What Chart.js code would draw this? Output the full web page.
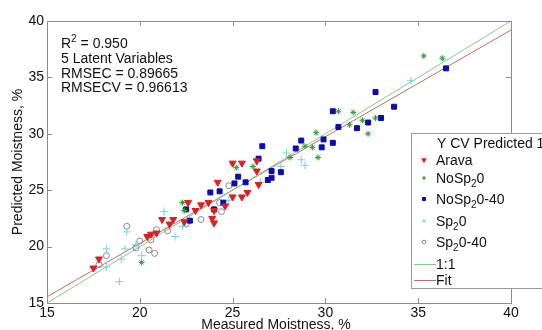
<!DOCTYPE html>
<html>
<head>
<meta charset="utf-8">
<script src="https://cdn.jsdelivr.net/npm/chart.js@4/dist/chart.umd.min.js"></script>
<style>
  body { margin: 0; background: #fff; }
  canvas { display: block; }
</style>
</head>
<body>
<canvas id="plsChart" width="542" height="330"></canvas>
<script>
// measured (x) vs predicted (y) moistness, per sample group
const aravaX = [17.5, 17.8, 20.4, 20.6, 20.9, 21.2, 21.6, 21.8, 22.4, 22.6, 23.0, 23.3, 23.7, 23.9, 24.0, 24.0, 24.2, 24.6, 25.0, 25.0, 25.5, 25.5, 25.8, 26.3, 26.3, 26.4];
const aravaY = [18.1, 18.9, 20.9, 21.1, 21.2, 22.4, 22.0, 22.4, 22.2, 23.9, 23.2, 23.7, 23.9, 22.5, 22.1, 23.2, 25.7, 23.6, 27.4, 24.4, 27.4, 24.4, 24.8, 27.6, 26.7, 25.5];

const noSp0X = [20.1, 22.3, 22.4, 25.2, 26.1, 28.1, 28.9, 29.3, 29.6, 29.5, 30.7, 31.3, 31.5, 32.0, 32.7, 32.3, 35.3, 36.3];
const noSp0Y = [18.6, 23.9, 23.2, 27.0, 27.1, 27.9, 28.9, 28.8, 27.9, 30.1, 32.0, 30.8, 31.9, 31.2, 31.4, 30.0, 36.9, 36.7];

const noSp40X = [22.7, 22.5, 23.8, 24.0, 24.3, 24.5, 25.1, 25.3, 25.7, 26.9, 27.1, 26.6, 26.4, 27.1, 27.6, 28.4, 28.7, 29.8, 29.9, 30.4, 30.4, 30.7, 31.7, 32.3, 33.0, 32.7, 33.7, 36.5];
const noSp40Y = [22.3, 23.3, 24.8, 23.3, 24.9, 23.9, 25.6, 26.2, 25.7, 25.9, 26.1, 28.9, 27.8, 26.7, 26.6, 28.7, 29.4, 28.8, 29.5, 29.2, 32.0, 30.6, 30.5, 31.0, 31.4, 33.7, 32.4, 35.8];

const sp0X = [18.2, 18.2, 18.9, 19.0, 19.2, 19.3, 19.8, 20.1, 21.3, 21.9, 22.3, 24.8, 26.5, 27.6, 27.9, 28.7, 28.9, 34.6];
const sp0Y = [18.2, 19.8, 16.9, 18.9, 19.8, 21.3, 20.2, 19.2, 23.1, 20.9, 21.8, 24.1, 25.7, 27.1, 28.3, 27.7, 27.2, 34.7];

const sp40X = [17.8, 18.2, 19.3, 19.8, 20.0, 20.5, 20.8, 20.6, 20.9, 21.5, 22.5, 23.3, 24.3, 24.4, 24.8];
const sp40Y = [18.4, 19.2, 21.8, 19.9, 20.5, 19.7, 19.4, 20.6, 21.5, 21.4, 22.0, 22.4, 23.9, 23.1, 25.4];

const oneX = [15, 40];
const oneY = [15, 40];
const fitX = [15, 40];
const fitY = [15.55, 39.2];

const tickVals = [15, 20, 25, 30, 35, 40];

const statsLines = [
  [['R', 'n'], ['2', 'sup'], [' = 0.950', 'n']],
  [['5 Latent Variables', 'n']],
  [['RMSEC = 0.89665', 'n']],
  [['RMSECV = 0.96613', 'n']]
];

const FONT = '"Liberation Sans", Arial, sans-serif';

function pts(xs, ys) {
  return xs.map((x, i) => ({ x: x, y: ys[i] }));
}

function drawRich(ctx, parts, x, y) {
  // y is the baseline
  let cx = x;
  parts.forEach(p => {
    let dy = 0;
    if (p[1] === 'sub') { ctx.font = '10px ' + FONT; dy = 4; }
    else if (p[1] === 'sup') { ctx.font = '10px ' + FONT; dy = -6; }
    else { ctx.font = '14px ' + FONT; }
    ctx.fillText(p[0], cx, y + dy);
    cx += ctx.measureText(p[0]).width;
  });
}

const groups = [
  { label: [['Arava', 'n']], xs: aravaX, ys: aravaY, style: 'triangle', rot: 180, r: 4, fill: '#dc1f24', stroke: '#dc1f24' },
  { label: [['NoSp', 'n'], ['2', 'sub'], ['0', 'n']], xs: noSp0X, ys: noSp0Y, style: 'star', rot: 0, r: 3, fill: '#2f9a3a', stroke: '#2f9a3a' },
  { label: [['NoSp', 'n'], ['2', 'sub'], ['0-40', 'n']], xs: noSp40X, ys: noSp40Y, style: 'rect', rot: 0, r: 3.5, fill: '#0b0bb0', stroke: '#0b0bb0' },
  { label: [['Sp', 'n'], ['2', 'sub'], ['0', 'n']], xs: sp0X, ys: sp0Y, style: 'cross', rot: 0, r: 4, fill: '#78d4e2', stroke: '#78d4e2' },
  { label: [['Sp', 'n'], ['2', 'sub'], ['0-40', 'n']], xs: sp40X, ys: sp40Y, style: 'circle', rot: 0, r: 3, fill: 'rgba(255,255,255,0)', stroke: '#8a8a8a' }
];

const lineGroups = [
  { label: [['1:1', 'n']], xs: oneX, ys: oneY, color: '#86c986' },
  { label: [['Fit', 'n']], xs: fitX, ys: fitY, color: '#c46a6a' }
];

const datasets = [];
groups.forEach(g => {
  datasets.push({
    type: 'scatter',
    data: pts(g.xs, g.ys),
    pointStyle: g.style,
    rotation: g.rot,
    pointRadius: g.r,
    pointBackgroundColor: g.fill,
    pointBorderColor: g.stroke,
    pointBorderWidth: 1,
    showLine: false
  });
});
lineGroups.forEach(l => {
  datasets.push({
    type: 'line',
    data: pts(l.xs, l.ys),
    borderColor: l.color,
    borderWidth: 1,
    pointRadius: 0,
    fill: false
  });
});

const framePlugin = {
  id: 'frame',
  afterDatasetsDraw(chart) {
    const ctx = chart.ctx;
    const a = chart.chartArea;
    const xs = chart.scales.x, ys = chart.scales.y;
    ctx.save();
    ctx.strokeStyle = '#8c8c8c';
    ctx.lineWidth = 1;
    ctx.strokeRect(a.left + 0.5, a.top + 0.5, a.right - a.left, a.bottom - a.top);
    ctx.beginPath();
    tickVals.forEach(v => {
      const px = Math.round(xs.getPixelForValue(v)) + 0.5;
      ctx.moveTo(px, a.bottom); ctx.lineTo(px, a.bottom - 5);
      ctx.moveTo(px, a.top); ctx.lineTo(px, a.top + 5);
      const py = Math.round(ys.getPixelForValue(v)) + 0.5;
      ctx.moveTo(a.left, py); ctx.lineTo(a.left + 5, py);
      ctx.moveTo(a.right, py); ctx.lineTo(a.right - 5, py);
    });
    ctx.stroke();

    // stats text
    ctx.fillStyle = '#111';
    ctx.textBaseline = 'alphabetic';
    ctx.textAlign = 'left';
    statsLines.forEach((line, i) => drawRich(ctx, line, 61, 48 + i * 14.8));

    // legend box
    const lx = 411, ly = 133, lw = 140, lh = 155;
    ctx.fillStyle = '#fff';
    ctx.fillRect(lx, ly, lw, lh);
    ctx.strokeStyle = '#9a9a9a';
    ctx.strokeRect(lx + 0.5, ly + 0.5, lw, lh);
    ctx.fillStyle = '#111';
    drawRich(ctx, [['Y CV Predicted 1', 'n']], 437, 148);
    const rowY = [160, 178, 199, 221, 242];
    groups.forEach((g, i) => {
      ctx.fillStyle = g.fill;
      ctx.strokeStyle = g.stroke;
      Chart.helpers.drawPoint(ctx, {
        pointStyle: g.style, rotation: g.rot, radius: g.r * 0.6, borderWidth: 1
      }, 424, rowY[i]);
      ctx.fillStyle = '#111';
      drawRich(ctx, g.label, 436, rowY[i] + 5);
    });
    const lineY = [264, 280];
    lineGroups.forEach((l, i) => {
      ctx.strokeStyle = l.color;
      ctx.beginPath();
      ctx.moveTo(414, lineY[i] + 0.5);
      ctx.lineTo(436, lineY[i] + 0.5);
      ctx.stroke();
      ctx.fillStyle = '#111';
      drawRich(ctx, l.label, 436, lineY[i] + 5);
    });

    // axis titles
    ctx.font = '14px ' + FONT;
    ctx.textAlign = 'center';
    ctx.textBaseline = 'top';
    ctx.fillText('Measured Moistness, %', 276, 318);
    ctx.translate(18, 162);
    ctx.rotate(-Math.PI / 2);
    ctx.textBaseline = 'middle';
    ctx.fillText('Predicted Moistness, %', 0, 0);
    ctx.restore();
  }
};

new Chart(document.getElementById('plsChart'), {
  data: { datasets: datasets },
  options: {
    responsive: false,
    animation: false,
    plugins: { legend: { display: false }, tooltip: { enabled: false } },
    layout: { padding: { top: 21, right: 31, left: 0, bottom: 0 } },
    scales: {
      x: {
        type: 'linear', min: 15, max: 40,
        grid: { display: false, drawTicks: false }, border: { display: false },
        ticks: { stepSize: 5, padding: 2, color: '#111', font: { size: 14, family: FONT } },
        afterFit: s => { s.height = 27; }
      },
      y: {
        type: 'linear', min: 15, max: 40,
        grid: { display: false, drawTicks: false }, border: { display: false },
        ticks: { stepSize: 5, padding: 3, color: '#111', font: { size: 14, family: FONT } },
        afterFit: s => { s.width = 47; }
      }
    }
  },
  plugins: [framePlugin]
});
</script>
</body>
</html>
